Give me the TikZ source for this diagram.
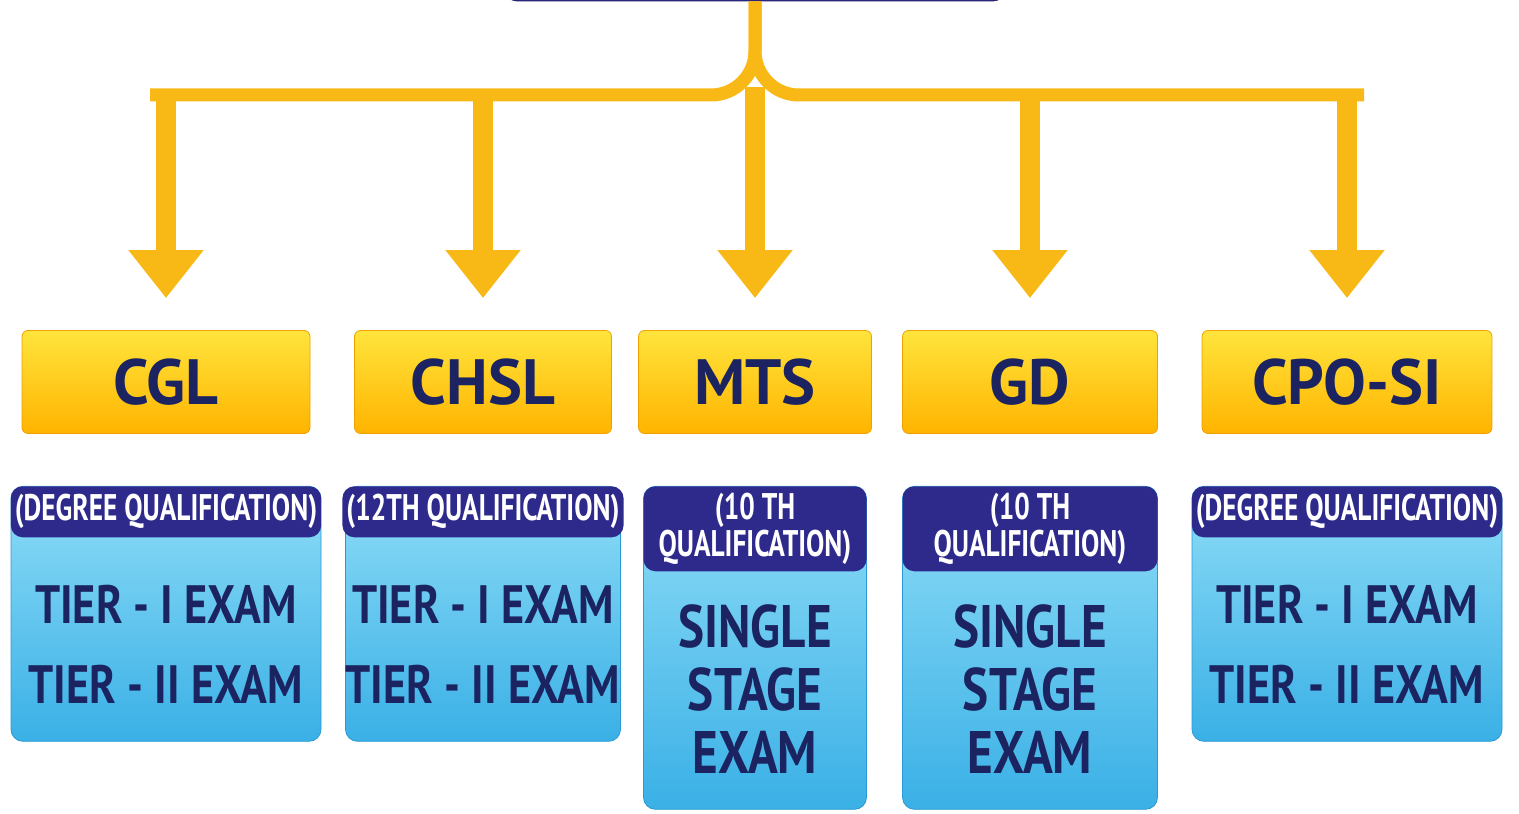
\documentclass[tikz,border=0pt]{standalone}
\usepackage{fontspec}
\setmainfont{PT Sans}
\newfontfamily\narrowfont{PT Sans}[FakeStretch=0.82]
\newfontfamily\headfont{PT Sans}[FakeStretch=0.74]
\usetikzlibrary{positioning,arrows.meta}

\definecolor{navy}{HTML}{1B2461}
\definecolor{qualblue}{HTML}{2E2A8C}
\definecolor{goldtop}{HTML}{FFE43C}
\definecolor{goldbot}{HTML}{FFB400}
\definecolor{goldedge}{HTML}{F0A000}
\definecolor{arrowgold}{HTML}{F8B816}
\definecolor{skytop}{HTML}{8FDDF7}
\definecolor{skybot}{HTML}{3AB0E6}
\definecolor{skyedge}{HTML}{2A9AD6}

\begin{document}
\begin{tikzpicture}
[x=0.5pt,y=-0.5pt,
 postbox/.style={draw=goldedge,rounded corners=3pt,top color=goldtop,bottom color=goldbot,text=navy,font=\bfseries\fontsize{32}{36}\selectfont,minimum height=51.5pt},
 qualbody/.style={draw=skyedge,rounded corners=6pt,top color=skytop,bottom color=skybot},
 qualhead/.style={fill=qualblue,rounded corners=6pt,text=white,align=center,font=\headfont\bfseries\fontsize{18.5}{18.5}\selectfont,inner sep=2pt},
 stagetext/.style={text=navy,align=center,font=\narrowfont\bfseries\fontsize{27}{40}\selectfont},
 goldbar/.style={draw=arrowgold,line width=6.5pt},
 goldarrow/.style={draw=arrowgold,line width=10pt,-{Triangle[width=36pt,length=24pt]},shorten >=16pt}]
\useasboundingbox (0,0) rectangle (1519,813);

% top box (cut off by the page edge)
\node[fill=qualblue,draw=qualblue!70!black,rounded corners=6pt,minimum width=250pt,minimum height=31pt] (ssc) at (755,-30) {};

% posts
\node[postbox,minimum width=144pt] (cgl) at (166,382) {CGL};
\node[postbox,minimum width=128.5pt] (chsl) at (483,382) {CHSL};
\node[postbox,minimum width=116.5pt] (mts) at (755,382) {MTS};
\node[postbox,minimum width=127.5pt] (gd) at (1030,382) {GD};
\node[postbox,minimum width=145pt] (cpo) at (1347,382) {CPO-SI};

% qualification boxes
\node[qualbody,minimum width=155pt,minimum height=127.5pt,below=26pt of cgl] (cglbody) {};
\node[qualbody,minimum width=137.5pt,minimum height=127.5pt,below=26pt of chsl] (chslbody) {};
\node[qualbody,minimum width=111.5pt,minimum height=161.5pt,below=26pt of mts] (mtsbody) {};
\node[qualbody,minimum width=127.5pt,minimum height=161.5pt,below=26pt of gd] (gdbody) {};
\node[qualbody,minimum width=155pt,minimum height=127.5pt,below=26pt of cpo] (cpobody) {};

\node[qualhead,minimum width=155pt,minimum height=25.5pt,anchor=north] (cglhead) at (cglbody.north) {(DEGREE QUALIFICATION)};
\node[qualhead,minimum width=137.5pt,minimum height=25.5pt,anchor=north] (chslhead) at (chslbody.north) {(12TH QUALIFICATION)};
\node[qualhead,minimum width=111.5pt,minimum height=42.5pt,anchor=north] (mtshead) at (mtsbody.north) {(10 TH\\QUALIFICATION)};
\node[qualhead,minimum width=127.5pt,minimum height=42.5pt,anchor=north] (gdhead) at (gdbody.north) {(10 TH\\QUALIFICATION)};
\node[qualhead,minimum width=155pt,minimum height=25.5pt,anchor=north] (cpohead) at (cpobody.north) {(DEGREE QUALIFICATION)};

\node[stagetext,below=20pt of cglhead] (cgltiers) {TIER - I EXAM\\TIER - II EXAM};
\node[stagetext,below=20pt of chslhead] (chsltiers) {TIER - I EXAM\\TIER - II EXAM};
\node[stagetext,font=\narrowfont\bfseries\fontsize{30}{31.5}\selectfont,below=13pt of mtshead] (mtsstage) {SINGLE\\STAGE\\EXAM};
\node[stagetext,font=\narrowfont\bfseries\fontsize{30}{31.5}\selectfont,below=13pt of gdhead] (gdstage) {SINGLE\\STAGE\\EXAM};
\node[stagetext,below=20pt of cpohead] (cpotiers) {TIER - I EXAM\\TIER - II EXAM};

% connectors
\coordinate (hub) at (755,95);
\coordinate (barleft) at (150,95);
\coordinate (barright) at (1364,95);
\draw[goldbar] (ssc.south) [rounded corners=22pt] -- (hub) -- (barleft);
\draw[goldbar] (ssc.south) [rounded corners=22pt] -- (hub) -- (barright);
\draw[goldarrow] (hub -| cgl) -- (cgl);
\draw[goldarrow] (hub -| chsl) -- (chsl);
\draw[goldarrow] ([yshift=4pt]hub -| mts) -- (mts);
\draw[goldarrow] (hub -| gd) -- (gd);
\draw[goldarrow] (hub -| cpo) -- (cpo);
\end{tikzpicture}
\end{document}
